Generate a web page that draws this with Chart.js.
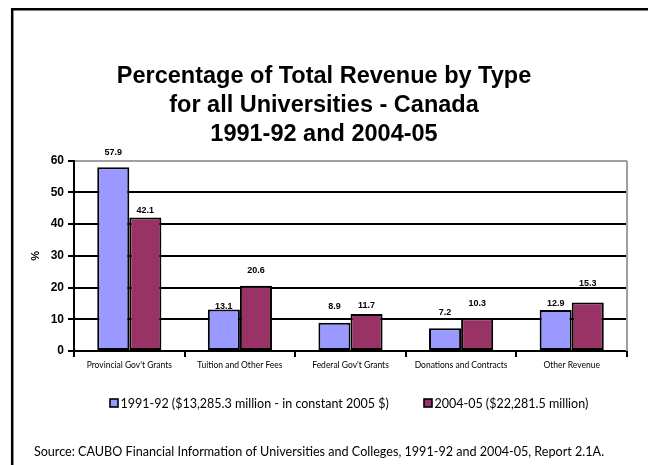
<!DOCTYPE html>
<html>
<head>
<meta charset="utf-8">
<script src="https://cdn.jsdelivr.net/npm/chart.js@4.4.0/dist/chart.umd.min.js"></script>
<style>
  html, body { margin: 0; padding: 0; background: #fff; }
  #wrap { width: 648px; height: 465px; }
</style>
</head>
<body>
<div id="wrap"><canvas id="c" width="648" height="465"></canvas></div>
<script>
const categories = ["Provincial Gov't Grants", "Tuition and Other Fees", "Federal Gov't Grants", "Donations and Contracts", "Other Revenue"];
const seriesNames = ["1991-92 ($13,285.3 million - in constant 2005 $)", "2004-05 ($22,281.5 million)"];
const values1991 = [57.9, 13.1, 8.9, 7.2, 12.9];
const values2004 = [42.1, 20.6, 11.7, 10.3, 15.3];
const yTicks = [0, 10, 20, 30, 40, 50, 60];
const titleLines = ["Percentage of Total Revenue by Type", "for all Universities - Canada", "1991-92 and 2004-05"];
const sourceNote = "Source: CAUBO Financial Information of Universities and Colleges, 1991-92 and 2004-05, Report 2.1A.";

const BLUE = '#9999FF';
const PLUM = '#993366';
const GREY = '#a0a0a0';

// outer frame: heavy rule along the top and left edges
const framePlugin = {
  id: 'frame',
  beforeDraw(chart) {
    const ctx = chart.ctx;
    ctx.save();
    ctx.strokeStyle = '#000';
    ctx.lineWidth = 2.5;
    ctx.beginPath();
    ctx.moveTo(12.2, 465);
    ctx.lineTo(12.2, 9.2);
    ctx.lineTo(648, 9.2);
    ctx.stroke();
    ctx.restore();
  }
};

// grey right edge of the plot area
const plotEdgePlugin = {
  id: 'plotEdge',
  beforeDatasetsDraw(chart) {
    const { ctx, chartArea } = chart;
    ctx.save();
    ctx.strokeStyle = GREY;
    ctx.lineWidth = 2;
    ctx.beginPath();
    ctx.moveTo(chartArea.right, chartArea.top);
    ctx.lineTo(chartArea.right, chartArea.bottom);
    ctx.stroke();
    ctx.restore();
  }
};

// value labels above each bar
const valueLabelPlugin = {
  id: 'valueLabels',
  afterDatasetsDraw(chart, args, opts) {
    const ctx = chart.ctx;
    ctx.save();
    ctx.font = 'bold 9px "Liberation Sans", Arial, sans-serif';
    ctx.fillStyle = '#000';
    ctx.textAlign = 'center';
    ctx.textBaseline = 'middle';
    chart.data.datasets.forEach((ds, di) => {
      const meta = chart.getDatasetMeta(di);
      meta.data.forEach((bar, i) => {
        const lift = opts.lift[di][i];
        ctx.fillText(ds.data[i].toFixed(1), bar.x, bar.y - lift);
      });
    });
    ctx.restore();
  }
};

// legend row and source note below the axis
const footerPlugin = {
  id: 'footer',
  afterDraw(chart, args, opts) {
    const ctx = chart.ctx;
    ctx.save();
    ctx.font = opts.legendFont;
    ctx.textBaseline = 'middle';
    ctx.textAlign = 'left';
    chart.data.datasets.forEach((ds, di) => {
      const x = opts.legendX[di];
      const y = opts.legendY;
      ctx.fillStyle = ds.backgroundColor;
      ctx.fillRect(x, y - 4, 8, 8);
      ctx.strokeStyle = '#000';
      ctx.lineWidth = 1.6;
      ctx.strokeRect(x, y - 4, 8, 8);
      ctx.fillStyle = '#000';
      ctx.fillText(ds.label, x + 10.5, y + 0.5);
    });
    ctx.font = opts.sourceFont;
    ctx.textAlign = 'center';
    ctx.fillText(sourceNote, opts.sourceX, opts.sourceY);
    ctx.restore();
  }
};

new Chart(document.getElementById('c'), {
  type: 'bar',
  data: {
    labels: categories,
    datasets: [
      { label: seriesNames[0], data: values1991, backgroundColor: BLUE, borderColor: '#000', borderWidth: 2, borderSkipped: false },
      { label: seriesNames[1], data: values2004, backgroundColor: PLUM, borderColor: '#000', borderWidth: 2, borderSkipped: false }
    ]
  },
  options: {
    responsive: false,
    animation: false,
    devicePixelRatio: 1,
    categoryPercentage: 0.58,
    barPercentage: 1.0,
    layout: { padding: { left: 0, right: 0, top: 0, bottom: 84 } },
    plugins: {
      legend: { display: false },
      tooltip: { enabled: false },
      title: {
        display: true,
        text: titleLines,
        color: '#000',
        font: { family: '"Liberation Sans", Arial, sans-serif', size: 23.5, weight: 'bold', lineHeight: 1.234 },
        padding: { top: 62.5, bottom: 11.2 }
      },
      valueLabels: {
        lift: [[15, 3, 16, 16, 7], [7, 15, 8, 15, 19]]
      },
      footer: {
        legendFont: '12.5px Lato, "Open Sans", sans-serif',
        legendX: [110, 424],
        legendY: 403,
        sourceFont: '12.6px Lato, "Open Sans", sans-serif',
        sourceX: 319,
        sourceY: 452
      }
    },
    scales: {
      x: {
        afterFit(s) { s.height = 30; },
        grid: { display: true, offset: true, drawOnChartArea: false, tickLength: 6, color: '#000', lineWidth: 2 },
        border: { display: true, color: '#000', width: 2 },
        ticks: { color: '#000', padding: 3, maxRotation: 0, autoSkip: false, font: { family: 'Lato, "Open Sans", sans-serif', size: 8.5 } }
      },
      y: {
        min: 0,
        max: 60,
        afterFit(s) { s.width = 74; },
        afterBuildTicks(s) { s.ticks = yTicks.map(v => ({ value: v })); },
        title: {
          display: true,
          text: '%',
          color: '#000',
          font: { family: '"Liberation Sans", Arial, sans-serif', size: 11, weight: 'bold' },
          padding: { top: 29, bottom: 0 }
        },
        grid: {
          color: c => (c.tick && c.tick.value === 60 ? GREY : '#000'),
          tickColor: '#000',
          lineWidth: 2,
          tickLength: 6
        },
        border: { display: true, color: '#000', width: 2 },
        ticks: { color: '#000', padding: 4, font: { family: '"Liberation Sans", Arial, sans-serif', size: 12, weight: 'bold' } }
      },
      // empty right-hand margin so the plot ends short of the canvas edge
      yMargin: {
        position: 'right',
        min: 0,
        max: 60,
        afterFit(s) { s.width = 21; },
        grid: { display: false },
        border: { display: false },
        ticks: { display: false }
      }
    }
  },
  plugins: [framePlugin, plotEdgePlugin, valueLabelPlugin, footerPlugin]
});
</script>
</body>
</html>
